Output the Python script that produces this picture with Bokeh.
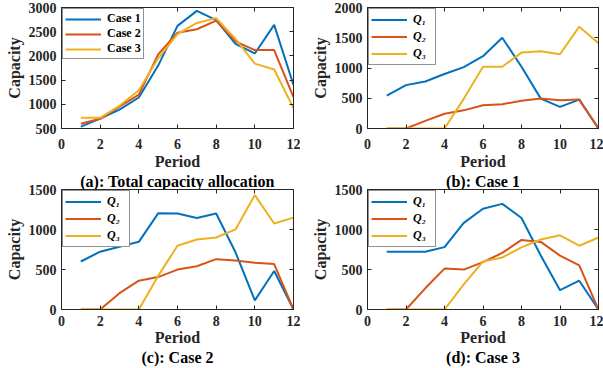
from bokeh.plotting import figure
from bokeh.layouts import column, row
from bokeh.models import (FixedTicker, Legend, LegendItem, Range1d, LinearAxis,
                          CustomJSTickFormatter)
from bokeh.embed import file_html
from bokeh.resources import INLINE

# ---------------- data ----------------
period = [1, 2, 3, 4, 5, 6, 7, 8, 9, 10, 11, 12]
x_ticks = [0, 2, 4, 6, 8, 10, 12]

# (a) total capacity allocation
total_case1 = [540, 705, 890, 1140, 1800, 2620, 2930, 2740, 2250, 2050, 2640, 1400]
total_case2 = [600, 700, 950, 1200, 2030, 2480, 2550, 2730, 2300, 2120, 2120, 1150]
total_case3 = [720, 720, 970, 1290, 1950, 2450, 2680, 2780, 2350, 1840, 1720, 920]
a_ticks = [500, 1000, 1500, 2000, 2500, 3000]

# (b) case 1
b_q1 = [543, 717, 776, 900, 1015, 1195, 1500, 1020, 494, 358, 478, 0]
b_q2 = [0, 0, 125, 244, 300, 385, 400, 460, 494, 467, 478, 0]
b_q3 = [0, 0, 0, 0, 490, 1020, 1020, 1255, 1275, 1227, 1683, 1410]
b_ticks = [0, 500, 1000, 1500, 2000]

# (c) case 2
c_q1 = [600, 723, 785, 846, 1202, 1200, 1144, 1200, 715, 114, 482, 0]
c_q2 = [0, 0, 204, 360, 405, 499, 540, 629, 613, 584, 568, 0]
c_q3 = [0, 0, 0, 0, 420, 797, 875, 900, 1001, 1430, 1075, 1148]
c_ticks = [0, 500, 1000, 1500]

# (d) case 3
d_q1 = [723, 723, 723, 780, 1083, 1259, 1320, 1144, 675, 241, 360, 0]
d_q2 = [0, 0, 265, 511, 499, 593, 707, 870, 845, 674, 552, 0]
d_q3 = [0, 0, 0, 0, 315, 600, 650, 777, 875, 928, 797, 900]
d_ticks = [0, 500, 1000, 1500]

case_labels = ["Case 1", "Case 2", "Case 3"]
q_labels = ["Q\u2081", "Q\u2082", "Q\u2083"]
titles = ["(a): Total capacity allocation", "(b): Case 1", "(c): Case 2", "(d): Case 3"]
colors = ["#0072BD", "#D95319", "#EDB120"]

FONT = "Liberation Serif"
AX = "#262626"


def box_axis(ticks):
    ax = LinearAxis(ticker=FixedTicker(ticks=ticks),
                    formatter=CustomJSTickFormatter(code="return ''"))
    ax.major_tick_in = 4
    ax.major_tick_out = 0
    ax.minor_tick_line_color = None
    ax.axis_line_color = AX
    ax.major_tick_line_color = AX
    ax.major_label_text_font_size = "1px"
    ax.major_label_standoff = 0
    return ax


def panel(series, labels, italic, yticks, title, width, height,
          bl, br, bt, row_h, leg_pad, tick_so, per_so):
    p = figure(width=width, height=height, output_backend="svg",
               toolbar_location=None, title=None,
               x_range=Range1d(0, 12), y_range=Range1d(yticks[0], yticks[-1]),
               min_border_left=bl, min_border_right=br, min_border_top=bt,
               min_border_bottom=0)
    p.background_fill_color = "white"
    p.border_fill_alpha = 0
    p.outline_line_color = AX
    p.outline_line_width = 1
    p.xgrid.visible = False
    p.ygrid.visible = False

    for ax, ticks in ((p.xaxis, x_ticks), (p.yaxis, yticks)):
        ax.ticker = FixedTicker(ticks=ticks)
        ax.major_tick_in = 4
        ax.major_tick_out = 0
        ax.minor_tick_line_color = None
        ax.axis_line_color = AX
        ax.major_tick_line_color = AX
        ax.major_label_text_font = FONT
        ax.major_label_text_font_size = "14px"
        ax.major_label_text_font_style = "bold"
        ax.major_label_text_color = AX
        ax.axis_label_text_font = FONT
        ax.axis_label_text_font_size = "16px"
        ax.axis_label_text_font_style = "bold"
        ax.axis_label_text_color = AX
    p.xaxis.axis_label = "Period"
    p.yaxis.axis_label = "Capacity"
    p.xaxis.major_label_standoff = tick_so
    p.xaxis.axis_label_standoff = per_so
    p.yaxis.major_label_standoff = 5
    p.yaxis.axis_label_standoff = 3

    # box ticks on top / right (inward, no labels)
    p.add_layout(box_axis(x_ticks), "above")
    p.add_layout(box_axis(yticks), "right")

    # sub-figure caption below the x axis label
    cap = LinearAxis(ticker=FixedTicker(ticks=[]), axis_label=title)
    cap.axis_line_color = None
    cap.major_tick_line_color = None
    cap.minor_tick_line_color = None
    cap.major_tick_out = 0
    cap.major_tick_in = 0
    cap.major_label_standoff = 0
    cap.axis_label_standoff = 0
    cap.axis_label_text_font = FONT
    cap.axis_label_text_font_size = "16px"
    cap.axis_label_text_font_style = "bold"
    cap.axis_label_text_color = "black"
    p.add_layout(cap, "below")

    items = []
    for ys, lab, col in zip(series, labels, colors):
        r = p.line(period, ys, line_color=col, line_width=2)
        items.append(LegendItem(label=lab, renderers=[r]))

    leg = Legend(items=items, location="top_left", margin=1,
                 padding=leg_pad, spacing=0, glyph_width=36, glyph_height=row_h,
                 label_height=row_h, label_standoff=6,
                 label_text_font=FONT, label_text_font_size="12px",
                 label_text_font_style="bold italic" if italic else "bold",
                 label_text_color="black",
                 border_line_color=AX, border_line_width=1,
                 background_fill_color="white", background_fill_alpha=1)
    p.add_layout(leg)
    return p


pa = panel([total_case1, total_case2, total_case3], case_labels, False, a_ticks,
           titles[0], 300, 192, 61, 7, 7, 14, 2, 10, 1)
pb = panel([b_q1, b_q2, b_q3], q_labels, True, b_ticks,
           titles[1], 303, 192, 67, 5, 7, 17, 2, 10, 1)
pc = panel([c_q1, c_q2, c_q3], q_labels, True, c_ticks,
           titles[2], 300, 184, 61, 7, 5, 17, 2, 6, 0)
pd = panel([d_q1, d_q2, d_q3], q_labels, True, d_ticks,
           titles[3], 303, 184, 67, 5, 5, 17, 2, 6, 0)

top = row(pa, pb)
bottom = row(pc, pd, margin=(-8, 0, 0, 0))
layout = column(top, bottom)

open("out.html", "w").write(file_html(layout, INLINE))
